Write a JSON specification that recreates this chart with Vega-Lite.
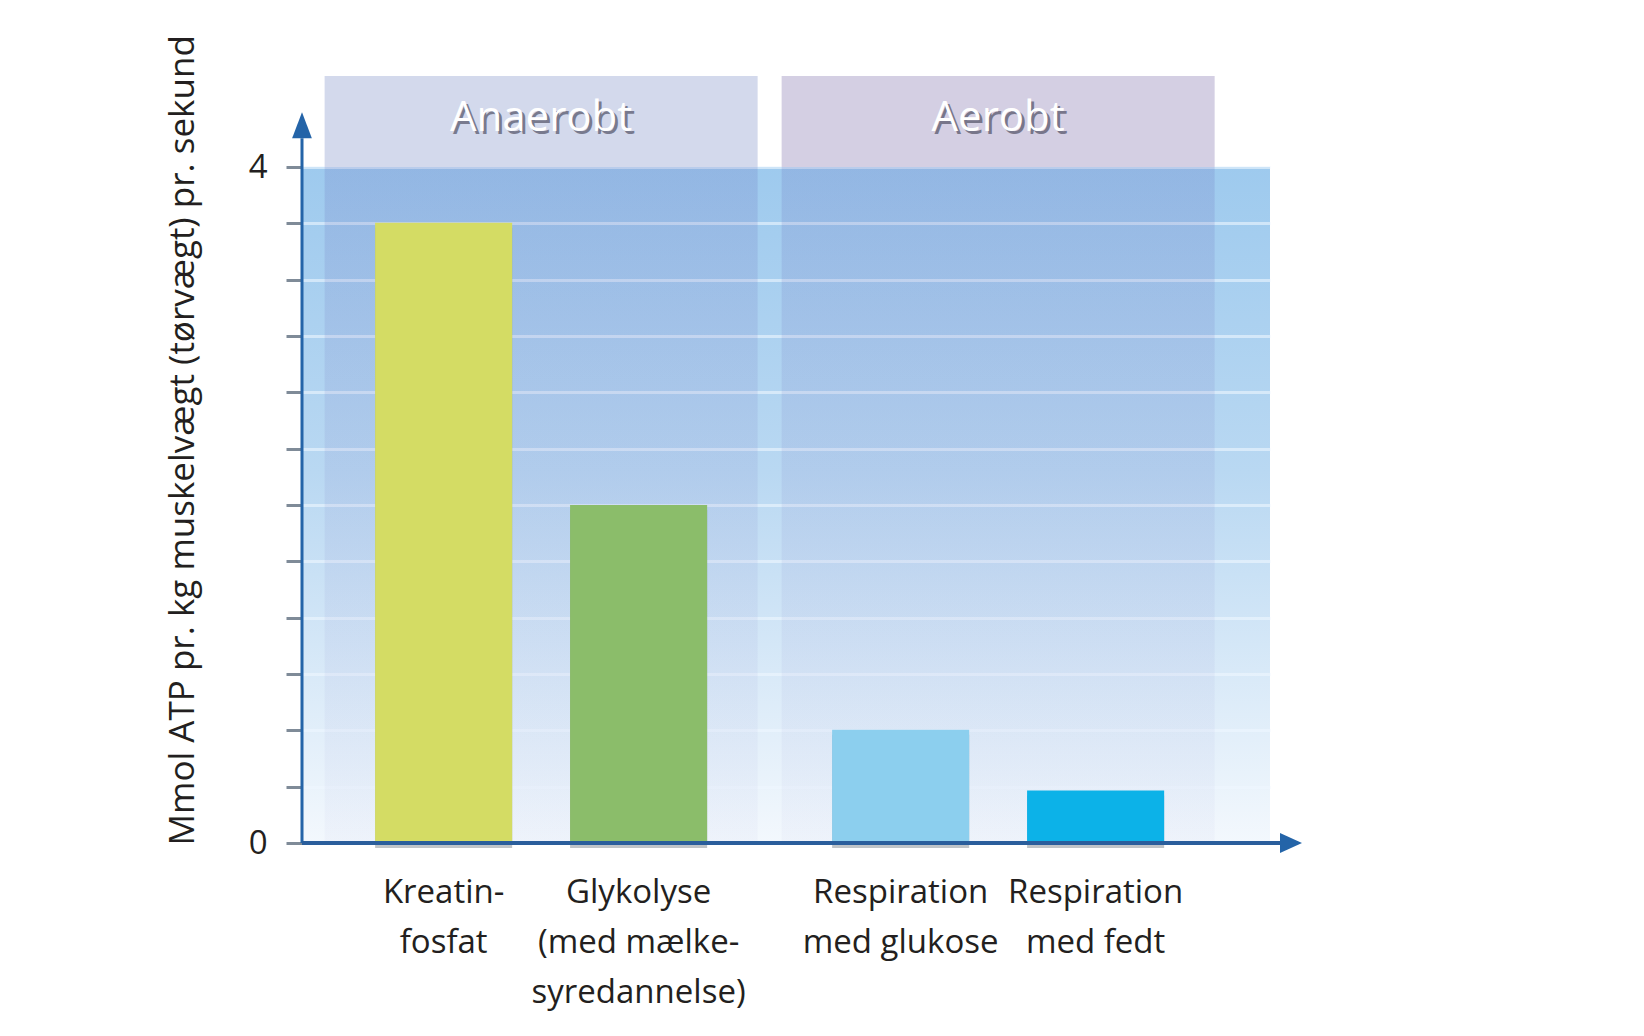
{
  "$schema": "https://vega.github.io/schema/vega-lite/v6.json",
  "width": 968,
  "height": 676,
  "autosize": "none",
  "padding": {"left": 302, "top": 167, "right": 374, "bottom": 193},
  "background": "white",
  "datasets": {
    "grupper": [{"gruppe": "Anaerobt"}, {"gruppe": "Aerobt"}],
    "processer": [
      {"proces": "Kreatinfosfat", "gruppe": "Anaerobt", "atp": 3.67, "etiket": ["Kreatin-", "fosfat"]},
      {"proces": "Glykolyse", "gruppe": "Anaerobt", "atp": 2.0, "etiket": ["Glykolyse", "(med mælke-", "syredannelse)"]},
      {"proces": "Respiration med glukose", "gruppe": "Aerobt", "atp": 0.67, "etiket": ["Respiration", "med glukose"]},
      {"proces": "Respiration med fedt", "gruppe": "Aerobt", "atp": 0.31, "etiket": ["Respiration", "med fedt"]}
    ],
    "akse": [{}]
  },
  "layer": [
    {
      "data": {"name": "grupper"},
      "mark": {
        "type": "rect",
        "color": {
          "gradient": "linear", "x1": 0, "y1": 0, "x2": 0, "y2": 1,
          "stops": [
            {"offset": 0, "color": "rgba(100,105,185,0.2)"},
            {"offset": 1, "color": "rgba(150,150,210,0.05)"}
          ]
        }
      },
      "encoding": {
        "x": {
          "field": "gruppe", "type": "nominal", "axis": null,
          "scale": {"domain": ["Anaerobt", "Aerobt"], "paddingInner": 0.0525, "paddingOuter": 0.0853, "align": 0.29}
        },
        "y": {
          "datum": 0, "type": "quantitative",
          "scale": {"domain": [0, 4], "nice": false},
          "title": "Mmol ATP pr. kg muskelvægt (tørvægt) pr. sekund",
          "axis": {
            "values": [0, 0.3333, 0.6667, 1, 1.3333, 1.6667, 2, 2.3333, 2.6667, 3, 3.3333, 3.6667, 4]
          }
        },
        "y2": {"datum": 4}
      }
    },
    {
      "data": {"name": "grupper"},
      "mark": {"type": "rect"},
      "encoding": {
        "x": {"field": "gruppe", "type": "nominal", "axis": null},
        "y": {"datum": 4, "type": "quantitative"},
        "y2": {"datum": 4.538},
        "color": {"condition": {"test": "datum.gruppe === 'Anaerobt'", "value": "#d3d9ec"}, "value": "#d4cfe3"}
      }
    },
    {
      "data": {"name": "grupper"},
      "mark": {"type": "text", "font": "Open Sans", "fontSize": 42, "color": "#3c3c50", "opacity": 0.6, "dx": 3, "dy": 3, "baseline": "middle"},
      "encoding": {
        "x": {"field": "gruppe", "type": "nominal", "axis": null},
        "y": {"datum": 4.29, "type": "quantitative"},
        "text": {"field": "gruppe"}
      }
    },
    {
      "data": {"name": "grupper"},
      "mark": {"type": "text", "font": "Open Sans", "fontSize": 42, "color": "white", "baseline": "middle"},
      "encoding": {
        "x": {"field": "gruppe", "type": "nominal", "axis": null},
        "y": {"datum": 4.29, "type": "quantitative"},
        "text": {"field": "gruppe"}
      }
    },
    {
      "data": {"name": "processer"},
      "transform": [{"filter": "datum.gruppe === 'Anaerobt'"}],
      "layer": [
        {
          "mark": {"type": "bar", "color": "#2c3a4a", "opacity": 0.3, "yOffset": 5, "y2Offset": 7},
          "encoding": {
            "x": {"field": "gruppe", "type": "nominal", "axis": null},
            "xOffset": {"field": "proces", "type": "nominal", "sort": null, "scale": {"paddingInner": 0.297, "paddingOuter": 0.259}},
            "y": {"field": "atp", "type": "quantitative", "title": "Mmol ATP pr. kg muskelvægt (tørvægt) pr. sekund"}
          }
        },
        {
          "mark": {"type": "bar"},
          "encoding": {
            "x": {"field": "gruppe", "type": "nominal", "axis": null},
            "xOffset": {"field": "proces", "type": "nominal", "sort": null},
            "y": {"field": "atp", "type": "quantitative", "title": "Mmol ATP pr. kg muskelvægt (tørvægt) pr. sekund"},
            "color": {
              "field": "proces", "type": "nominal", "legend": null,
              "scale": {
                "domain": ["Kreatinfosfat", "Glykolyse", "Respiration med glukose", "Respiration med fedt"],
                "range": ["#d4dc64", "#8bbd6a", "#8ccfee", "#0cb2e8"]
              }
            }
          }
        },
        {
          "mark": {"type": "text", "font": "Open Sans", "fontSize": 33, "lineHeight": 50, "baseline": "alphabetic", "dy": 60, "color": "#231f20"},
          "encoding": {
            "x": {"field": "gruppe", "type": "nominal", "axis": null},
            "xOffset": {"field": "proces", "type": "nominal", "sort": null},
            "y": {"datum": 0, "type": "quantitative"},
            "text": {"field": "etiket"}
          }
        }
      ]
    },
    {
      "data": {"name": "processer"},
      "transform": [{"filter": "datum.gruppe === 'Aerobt'"}],
      "layer": [
        {
          "mark": {"type": "bar", "color": "#2c3a4a", "opacity": 0.3, "yOffset": 5, "y2Offset": 7},
          "encoding": {
            "x": {"field": "gruppe", "type": "nominal", "axis": null},
            "xOffset": {"field": "proces", "type": "nominal", "sort": null, "scale": {"paddingInner": 0.297, "paddingOuter": 0.259}},
            "y": {"field": "atp", "type": "quantitative", "title": "Mmol ATP pr. kg muskelvægt (tørvægt) pr. sekund"}
          }
        },
        {
          "mark": {"type": "bar"},
          "encoding": {
            "x": {"field": "gruppe", "type": "nominal", "axis": null},
            "xOffset": {"field": "proces", "type": "nominal", "sort": null},
            "y": {"field": "atp", "type": "quantitative", "title": "Mmol ATP pr. kg muskelvægt (tørvægt) pr. sekund"},
            "color": {"field": "proces", "type": "nominal", "legend": null}
          }
        },
        {
          "mark": {"type": "text", "font": "Open Sans", "fontSize": 33, "lineHeight": 50, "baseline": "alphabetic", "dy": 60, "color": "#231f20"},
          "encoding": {
            "x": {"field": "gruppe", "type": "nominal", "axis": null},
            "xOffset": {"field": "proces", "type": "nominal", "sort": null},
            "y": {"datum": 0, "type": "quantitative"},
            "text": {"field": "etiket"}
          }
        }
      ]
    },
    {
      "data": {"name": "akse"},
      "layer": [
        {
          "mark": {"type": "rule", "color": "#2464a8", "strokeWidth": 3},
          "encoding": {
            "x": {"value": 0},
            "y": {"datum": 0, "type": "quantitative"},
            "y2": {"datum": 4.17}
          }
        },
        {
          "mark": {"type": "point", "shape": "M0,-1L0.38,0L-0.38,0Z", "size": 2704, "filled": true, "color": "#2464a8", "opacity": 1, "strokeWidth": 0},
          "encoding": {
            "x": {"value": 0},
            "y": {"datum": 4.17, "type": "quantitative"}
          }
        },
        {
          "mark": {"type": "rule", "color": "#2a5e9c", "strokeWidth": 4, "x2Offset": 10},
          "encoding": {
            "x": {"value": 0},
            "x2": {"value": "width"},
            "y": {"datum": 0, "type": "quantitative"}
          }
        },
        {
          "mark": {"type": "point", "shape": "M1,0L0,-0.45L0,0.45Z", "size": 1936, "filled": true, "color": "#2464a8", "opacity": 1, "strokeWidth": 0, "xOffset": 10},
          "encoding": {
            "x": {"value": "width"},
            "y": {"datum": 0, "type": "quantitative"}
          }
        }
      ]
    }
  ],
  "resolve": {"scale": {"xOffset": "independent"}},
  "config": {
    "font": "Open Sans",
    "axisY": {
      "labelExpr": "datum.value == 0 ? '0' : (datum.value == 4 ? '4' : '')",
      "domain": false,
      "grid": true, "gridColor": "#eef7ff", "gridOpacity": 0.6, "gridWidth": 3,
      "ticks": true, "tickColor": "#7f8b98", "tickWidth": 3, "tickSize": 16,
      "labelFont": "Open Sans", "labelFontSize": 33, "labelColor": "#231f20", "labelPadding": 19,
      "labelFlush": false, "labelOverlap": false,
      "titleFont": "Open Sans", "titleFontSize": 35, "titleFontWeight": "normal", "titleColor": "#231f20",
      "titleAngle": 270, "titleAlign": "left", "titleBaseline": "middle", "titleX": -120, "titleY": 678
    },
    "view": {
      "stroke": null,
      "fill": {
        "gradient": "linear", "x1": 0, "y1": 0, "x2": 0, "y2": 1,
        "stops": [
          {"offset": 0, "color": "#9ecaee"},
          {"offset": 0.45, "color": "#b9d8f2"},
          {"offset": 1, "color": "#f3f8fd"}
        ]
      }
    }
  }
}
